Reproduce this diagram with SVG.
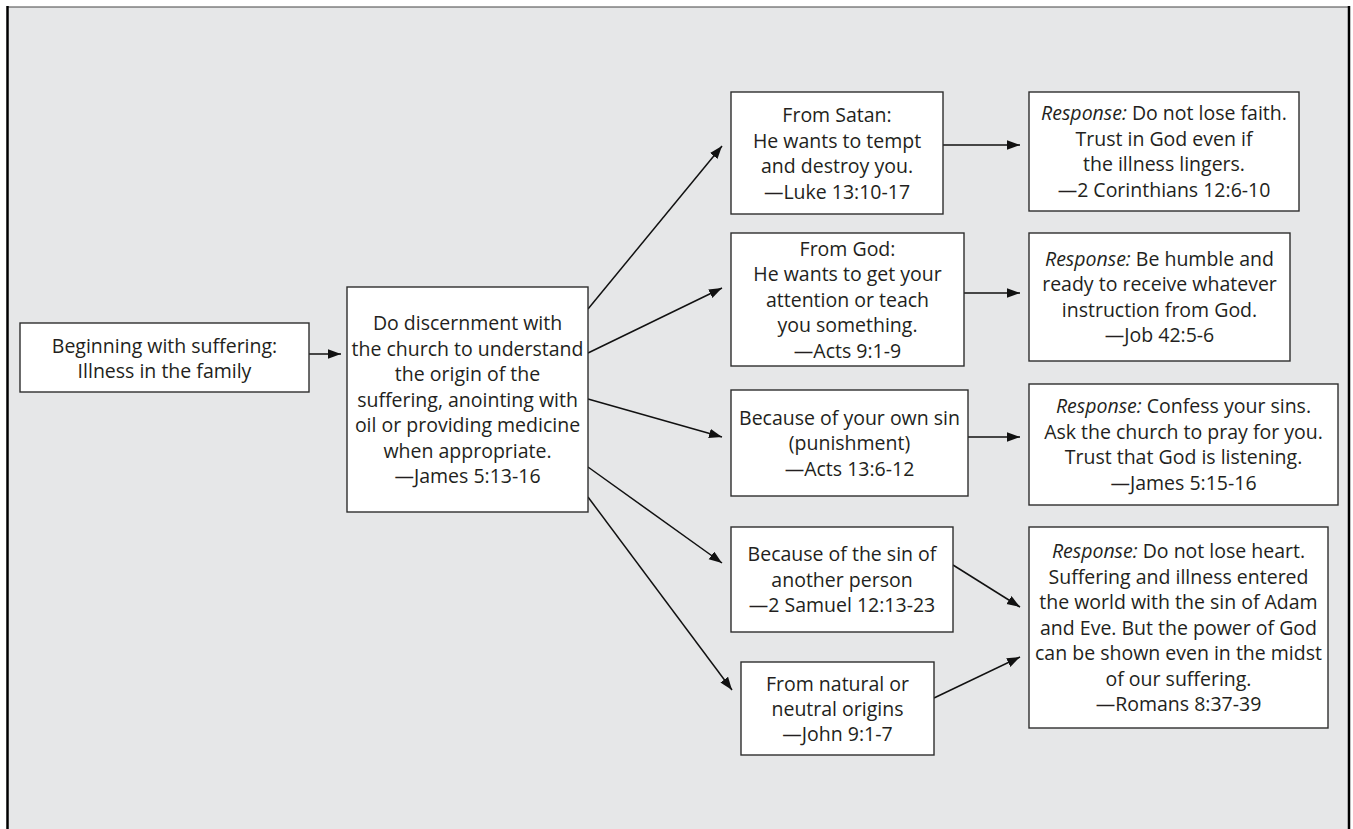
<svg xmlns="http://www.w3.org/2000/svg" width="1353" height="829" viewBox="0 0 1353 829">
<style>
.bx{fill:#ffffff;stroke:#2e2e2e;stroke-width:1.4}
.t{font-family:"Open Sans","Noto Sans","DejaVu Sans",sans-serif;font-size:19.5px;fill:#231f20;text-anchor:middle}
.i{font-style:italic}
.c{fill:none;stroke:#111;stroke-width:1.5;marker-end:url(#ah)}
</style>
<defs>
<marker id="ah" markerUnits="userSpaceOnUse" markerWidth="14" markerHeight="10" refX="13" refY="4.75" orient="auto">
<path d="M0,0 L13,4.75 L0,9.5 z" fill="#111"/>
</marker>
</defs>
<rect x="7" y="7" width="1342" height="830" fill="#e6e7e8"/>
<line x1="7" y1="7" x2="1349" y2="7" stroke="#444" stroke-width="1.2"/>
<line x1="7.5" y1="6" x2="7.5" y2="829" stroke="#000" stroke-width="2.5"/>
<line x1="1349" y1="6" x2="1349" y2="829" stroke="#000" stroke-width="2.5"/>

<g id="connectors">
<path class="c" d="M309,354 L341,354"/>
<path class="c" d="M588,309 L722,146"/>
<path class="c" d="M588,353 L722,288"/>
<path class="c" d="M588,399 L722,437"/>
<path class="c" d="M588,467 L722,563"/>
<path class="c" d="M588,497 L732,690"/>
<path class="c" d="M943,145 L1020,145"/>
<path class="c" d="M964,293 L1020,293"/>
<path class="c" d="M968,437 L1020,437"/>
<path class="c" d="M953,565 L1020,607"/>
<path class="c" d="M934,698 L1020,657"/>
</g>

<g id="start">
<rect class="bx" x="20" y="323" width="289" height="69"/>
<text class="t" x="164.5" y="353">Beginning with suffering:</text>
<text class="t" x="164.5" y="378">Illness in the family</text>
</g>

<g id="discernment">
<rect class="bx" x="347" y="287" width="241" height="225"/>
<text class="t" x="467.5" y="330">Do discernment with</text>
<text class="t" x="467.5" y="355.5">the church to understand</text>
<text class="t" x="467.5" y="381">the origin of the</text>
<text class="t" x="467.5" y="406.5">suffering, anointing with</text>
<text class="t" x="467.5" y="432">oil or providing medicine</text>
<text class="t" x="467.5" y="457.5">when appropriate.</text>
<text class="t" x="467.5" y="483">—James 5:13-16</text>
</g>

<g id="satan">
<rect class="bx" x="731" y="92" width="212" height="122"/>
<text class="t" x="837" y="122">From Satan:</text>
<text class="t" x="837" y="147.5">He wants to tempt</text>
<text class="t" x="837" y="173">and destroy you.</text>
<text class="t" x="837" y="198.5">—Luke 13:10-17</text>
</g>

<g id="god">
<rect class="bx" x="731" y="233" width="233" height="133"/>
<text class="t" x="847.5" y="255.5">From God:</text>
<text class="t" x="847.5" y="281">He wants to get your</text>
<text class="t" x="847.5" y="306.5">attention or teach</text>
<text class="t" x="847.5" y="332">you something.</text>
<text class="t" x="847.5" y="357.5">—Acts 9:1-9</text>
</g>

<g id="ownsin">
<rect class="bx" x="731" y="390" width="237" height="106"/>
<text class="t" x="849.5" y="424.5">Because of your own sin</text>
<text class="t" x="849.5" y="450">(punishment)</text>
<text class="t" x="849.5" y="475.5">—Acts 13:6-12</text>
</g>

<g id="othersin">
<rect class="bx" x="731" y="527" width="222" height="105"/>
<text class="t" x="842" y="561">Because of the sin of</text>
<text class="t" x="842" y="586.5">another person</text>
<text class="t" x="842" y="612">—2 Samuel 12:13-23</text>
</g>

<g id="natural">
<rect class="bx" x="741" y="662" width="193" height="93"/>
<text class="t" x="837.5" y="691">From natural or</text>
<text class="t" x="837.5" y="716">neutral origins</text>
<text class="t" x="837.5" y="741">—John 9:1-7</text>
</g>

<g id="resp1">
<rect class="bx" x="1029" y="92" width="270" height="119"/>
<text class="t" x="1164" y="120"><tspan class="i">Response:</tspan> Do not lose faith.</text>
<text class="t" x="1164" y="145.5">Trust in God even if</text>
<text class="t" x="1164" y="171">the illness lingers.</text>
<text class="t" x="1164" y="196.5">—2 Corinthians 12:6-10</text>
</g>

<g id="resp2">
<rect class="bx" x="1029" y="233" width="261" height="128"/>
<text class="t" x="1159.5" y="265.5"><tspan class="i">Response:</tspan> Be humble and</text>
<text class="t" x="1159.5" y="291">ready to receive whatever</text>
<text class="t" x="1159.5" y="316.5">instruction from God.</text>
<text class="t" x="1159.5" y="342">—Job 42:5-6</text>
</g>

<g id="resp3">
<rect class="bx" x="1029" y="384" width="309" height="121"/>
<text class="t" x="1183.5" y="413"><tspan class="i">Response:</tspan> Confess your sins.</text>
<text class="t" x="1183.5" y="438.5">Ask the church to pray for you.</text>
<text class="t" x="1183.5" y="464">Trust that God is listening.</text>
<text class="t" x="1183.5" y="489.5">—James 5:15-16</text>
</g>

<g id="resp4">
<rect class="bx" x="1029" y="527" width="299" height="201"/>
<text class="t" x="1178.5" y="558"><tspan class="i">Response:</tspan> Do not lose heart.</text>
<text class="t" x="1178.5" y="583.5">Suffering and illness entered</text>
<text class="t" x="1178.5" y="609">the world with the sin of Adam</text>
<text class="t" x="1178.5" y="634.5">and Eve. But the power of God</text>
<text class="t" x="1178.5" y="660">can be shown even in the midst</text>
<text class="t" x="1178.5" y="685.5">of our suffering.</text>
<text class="t" x="1178.5" y="711">—Romans 8:37-39</text>
</g>
</svg>
